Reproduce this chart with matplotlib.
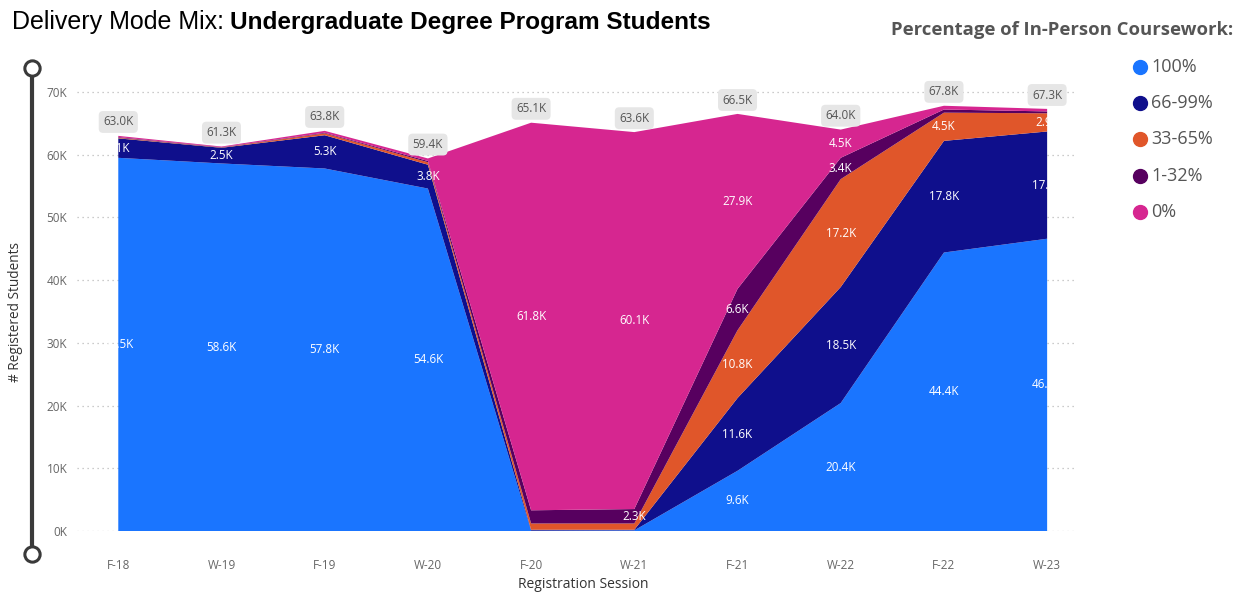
import numpy as np
import matplotlib.pyplot as plt
from matplotlib.lines import Line2D
from matplotlib.patches import Rectangle

sessions = ['F-18', 'W-19', 'F-19', 'W-20', 'F-20', 'W-21', 'F-21', 'W-22', 'F-22', 'W-23']
totals = [63.0, 61.3, 63.8, 59.4, 65.1, 63.6, 66.5, 64.0, 67.8, 67.3]

# values in thousands, bottom to top of the stack
pct_100 = [59.5, 58.6, 57.8, 54.6, 0.05, 0.1, 9.6, 20.4, 44.4, 46.6]
pct_66_99 = [3.1, 2.5, 5.3, 3.8, 0.15, 0.1, 11.6, 18.5, 17.8, 17.1]
pct_33_65 = [0.1, 0.05, 0.3, 0.4, 1.0, 1.0, 10.8, 17.2, 4.5, 2.9]
pct_1_32 = [0.1, 0.05, 0.1, 0.2, 2.1, 2.3, 6.6, 3.4, 0.5, 0.3]
pct_0 = [0.2, 0.1, 0.3, 0.4, 61.8, 60.1, 27.9, 4.5, 0.6, 0.4]

series = [pct_100, pct_66_99, pct_33_65, pct_1_32, pct_0]
names = ['100%', '66-99%', '33-65%', '1-32%', '0%']
colors = ['#1a75ff', '#0f0f8c', '#e0562a', '#57005f', '#d62690']

W, H = 1243, 592
fig = plt.figure(figsize=(W/100, H/100), dpi=100)
ax = fig.add_axes([77/W, (H-531)/H, 998/W, 470.4/H])

x = np.arange(len(sessions))
ax.stackplot(x, *series, colors=colors, linewidth=0, zorder=2)
ax.set_xlim(-0.4, 9.27)
ax.set_ylim(0, 75)

ax.set_yticks(np.arange(0, 71, 10))
ax.set_yticklabels([f'{v}K' for v in range(0, 71, 10)])
ax.set_xticks(x)
ax.set_xticklabels(sessions)
ax.tick_params(length=0, labelsize=8.5, colors='#666666')
ax.tick_params(axis='x', pad=20)
ax.tick_params(axis='y', pad=7)
for lab in ax.get_xticklabels() + ax.get_yticklabels():
    lab.set_family('Open Sans')
ax.grid(axis='y', linestyle=(0, (1, 3)), color='#bbbbbb', linewidth=0.9, zorder=0)
for s in ax.spines.values():
    s.set_visible(False)

ax.set_xlabel('Registration Session', fontsize=10, color='#333333', family='Open Sans')
ax.xaxis.set_label_coords(0.507, -0.097)
ax.set_ylabel('# Registered Students', fontsize=9.8, color='#333333', family='Open Sans')
ax.yaxis.set_label_coords(-0.062, 0.465)
ax.yaxis.label.set_va('center')

# clip the band labels to the data range like the original
clip = Rectangle((0, 0), 9, 100, transform=ax.transData, visible=False)
ax.add_patch(clip)

bottom = np.zeros(len(sessions))
for vals in series:
    vals = np.array(vals)
    for i in range(len(sessions)):
        if vals[i] >= 2.2:
            t = ax.text(x[i], bottom[i] + vals[i]/2, f'{vals[i]:.1f}K', color='white',
                        fontsize=8.4, ha='center', va='center', family='Open Sans', zorder=4)
            t.set_clip_path(clip)
    bottom += vals

for i, tot in enumerate(totals):
    ax.annotate(f'{tot:.1f}K', (x[i], tot), xytext=(0, 10), textcoords='offset points',
                ha='center', va='center', fontsize=8.4, color='#555555', family='Open Sans',
                bbox=dict(boxstyle='round,pad=0.38', fc='#e6e6e6', ec='none'), zorder=5)

# title
fig.text(12/W, 1-22/H, 'Delivery Mode Mix:', fontsize=18, family='Liberation Sans', va='center')
fig.text(230/W, 1-22/H, 'Undergraduate Degree Program Students', fontsize=17.6,
         family='Liberation Sans', weight='bold', va='center')

# slider decoration on the left
fig.add_artist(Line2D([32/W, 32/W], [1-68/H, 1-554/H], transform=fig.transFigure,
                      color='#3a3a3a', lw=3, marker='o', ms=11, mfc='white', mec='#3a3a3a', mew=2.2))

# legend
fig.text(891/W, 1-30/H, 'Percentage of In-Person Coursework:', fontsize=13.3, weight='bold',
         color='#555555', family='Open Sans', va='center')
for i, (n, c) in enumerate(zip(names, colors)):
    yy = 1 - (67 + i*36.2)/H
    fig.add_artist(Line2D([1140/W], [yy], transform=fig.transFigure, marker='o', ms=10,
                          color=c, linestyle='none'))
    fig.text(1151/W, yy, n, fontsize=13, color='#555555', family='Open Sans', va='center')

fig.savefig('out.png', dpi=100)
